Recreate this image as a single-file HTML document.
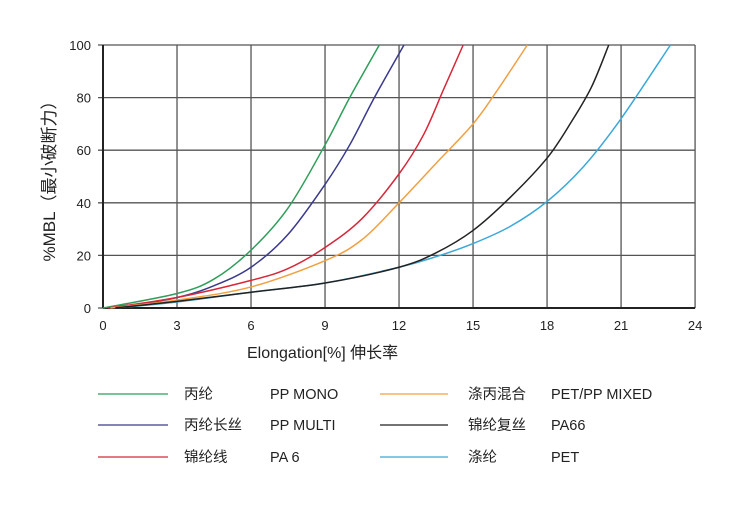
<!DOCTYPE html>
<html><head><meta charset="utf-8"><style>
body{margin:0;background:#fff;width:744px;height:501px;overflow:hidden;font-family:"Liberation Sans","Noto Sans CJK SC",sans-serif}
</style></head><body>
<svg id="s" width="744" height="501" xmlns="http://www.w3.org/2000/svg" font-family="Liberation Sans, Noto Sans CJK SC, sans-serif">
<g stroke="#555" stroke-width="1.3" id="grid"></g>
<g id="curves" fill="none" stroke-width="1.5"></g>
<g font-size="13" fill="#222" id="ticks"></g>
<text transform="translate(55,177) rotate(-90)" text-anchor="middle" font-size="17" fill="#222">%MBL（最小破断力）</text>
<text x="247" y="358" font-size="16" fill="#222">Elongation[%]   伸长率</text>
<g font-size="14.5" fill="#222">
<line x1="98" y1="394" x2="168" y2="394" stroke="#2e9e5a" stroke-width="1.3"/><text x="184" y="399">丙纶</text><text x="270" y="399">PP MONO</text>
<line x1="98" y1="425" x2="168" y2="425" stroke="#3a3a8c" stroke-width="1.3"/><text x="184" y="430">丙纶长丝</text><text x="270" y="430">PP MULTI</text>
<line x1="98" y1="457" x2="168" y2="457" stroke="#d6283a" stroke-width="1.3"/><text x="184" y="462">锦纶线</text><text x="270" y="462">PA 6</text>
<line x1="380" y1="394" x2="448" y2="394" stroke="#f0a040" stroke-width="1.3"/><text x="468" y="399">涤丙混合</text><text x="551" y="399">PET/PP MIXED</text>
<line x1="380" y1="425" x2="448" y2="425" stroke="#222" stroke-width="1.3"/><text x="468" y="430">锦纶复丝</text><text x="551" y="430">PA66</text>
<line x1="380" y1="457" x2="448" y2="457" stroke="#3ca8d8" stroke-width="1.3"/><text x="468" y="462">涤纶</text><text x="551" y="462">PET</text>
</g>
</svg>
<script>
const X=x=>103+x*24.67, Y=y=>308-y*2.63, ns="http://www.w3.org/2000/svg";
const g=document.getElementById('grid'),t=document.getElementById('ticks'),c=document.getElementById('curves');
function el(p,tag,a,txt){const e=document.createElementNS(ns,tag);for(const k in a)e.setAttribute(k,a[k]);if(txt!=null)e.textContent=txt;p.appendChild(e);return e;}
for(let i=0;i<=8;i++){el(g,'line',{x1:X(i*3),y1:Y(0),x2:X(i*3),y2:Y(100)});el(t,'text',{x:X(i*3),y:330,'text-anchor':'middle'},i*3);}
for(let j=0;j<=5;j++){el(g,'line',{x1:X(0)-5,y1:Y(j*20),x2:X(24),y2:Y(j*20)});el(t,'text',{x:91,y:Y(j*20)+5,'text-anchor':'end'},j*20);}
el(g,'line',{x1:X(0),y1:Y(0),x2:X(24),y2:Y(0),'stroke-width':2,stroke:'#222'});
el(g,'line',{x1:X(0),y1:Y(0),x2:X(0),y2:Y(100),'stroke-width':2,stroke:'#222'});
const S=[
['#2e9e5a',[[0,0],[3,5.5],[4.5,11],[6,22],[7.5,38],[9,62],[10,80],[11.2,100]]],
['#3a3a8c',[[0.6,0],[3,4],[4.5,8.5],[6,15.5],[7.5,28],[9,47],[10,62],[11,80],[12.2,100]]],
['#d6283a',[[0.2,0],[3,4],[6,10.5],[7.5,15],[9,23],[10.5,34],[12,51],[13,66],[13.8,83],[14.6,100]]],
['#f0a040',[[0.3,0],[3,3],[6,8],[9,18],[10.5,26],[12,40],[13.5,55],[15,70],[16,83],[17.2,100]]],
['#3ca8d8',[[0.5,0],[3,2.3],[6,6],[9,9.5],[12,15.5],[13.5,19.5],[15,24.5],[16.5,31],[18,40.5],[19.5,54],[21,72],[23,100]]],
['#222',[[0.5,0],[3,2.5],[6,6],[9,9.5],[12,15.5],[13.5,21],[15,29.5],[16.5,42],[18,57],[19,71],[19.8,84],[20.5,100]]]
];
for(const [col,pts] of S){const P=pts.map(p=>[X(p[0]),Y(p[1])]);let d='M'+P[0];
for(let i=0;i<P.length-1;i++){const p0=P[i-1]||P[i],p1=P[i],p2=P[i+1],p3=P[i+2]||p2;
d+=` C${p1[0]+(p2[0]-p0[0])/6},${p1[1]+(p2[1]-p0[1])/6} ${p2[0]-(p3[0]-p1[0])/6},${p2[1]-(p3[1]-p1[1])/6} ${p2[0]},${p2[1]}`;}
el(c,'path',{d:d,stroke:col});}
</script>
</body></html>
